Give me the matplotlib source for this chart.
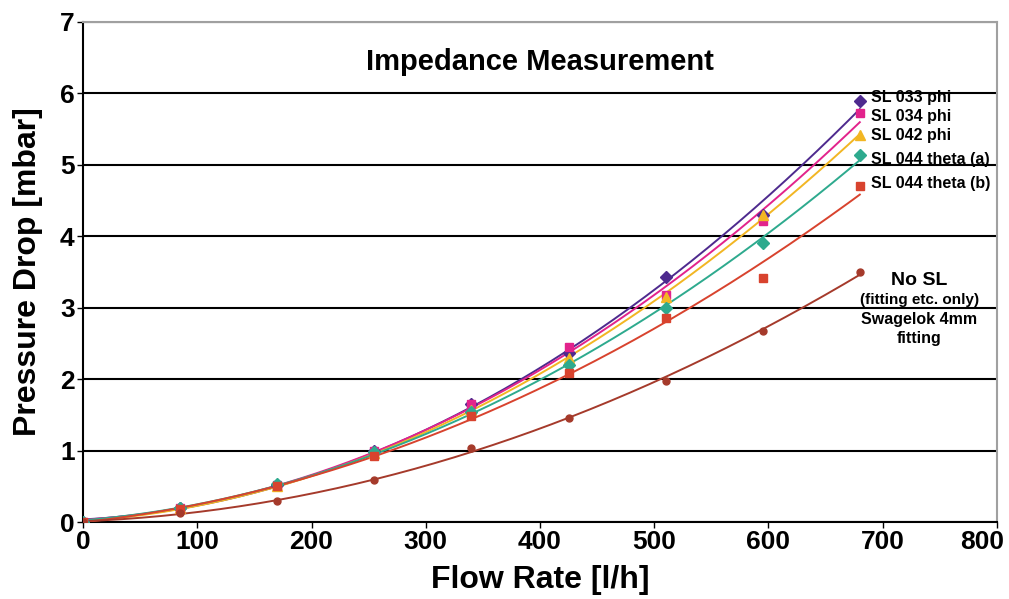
import numpy as np
import matplotlib
matplotlib.use("Agg")
from matplotlib import pyplot as plt
from matplotlib.transforms import ScaledTranslation

plt.rcParams['font.family'] = ['Liberation Sans', 'DejaVu Sans']

flow = [0, 85, 170, 255, 340, 425, 510, 595, 680]

sl033 = [0, 0.20, 0.52, 1.00, 1.65, 2.36, 3.43, 4.30, 5.90]
sl034 = [0, 0.20, 0.52, 1.00, 1.65, 2.45, 3.18, 4.22, 5.73]
sl042 = [0, 0.19, 0.50, 0.97, 1.57, 2.30, 3.15, 4.30, 5.42]
sl044a = [0, 0.20, 0.53, 0.98, 1.54, 2.20, 3.00, 3.90, 5.14]
sl044b = [0, 0.18, 0.50, 0.93, 1.48, 2.08, 2.86, 3.42, 4.70]
no_sl = [0, 0.12, 0.30, 0.59, 1.04, 1.46, 1.98, 2.67, 3.50]

series = [
    ("SL 033 phi", sl033, "#4E2A8E", "D", 6),
    ("SL 034 phi", sl034, "#E2238C", "s", 6),
    ("SL 042 phi", sl042, "#F2B623", "^", 7),
    ("SL 044 theta (a)", sl044a, "#2EAA8E", "D", 6),
    ("SL 044 theta (b)", sl044b, "#D8432E", "s", 6),
    ("No SL", no_sl, "#A53A2B", "o", 5),
]

label_y = [5.94, 5.68, 5.41, 5.08, 4.74]

fig = plt.figure(figsize=(10.09, 5.99), dpi=100)
ax = fig.add_axes([0.0823, 0.1285, 0.9057, 0.8348])

xs = np.linspace(0, 680, 200)
for name, vals, col, mk, ms in series:
    coef = np.polyfit(flow, vals, 2)
    ax.plot(xs, np.polyval(coef, xs), color=col, lw=1.4, zorder=3)
    ax.plot(flow, vals, ls="none", marker=mk, color=col, ms=ms, zorder=4)

for (name, vals, col, mk, ms), ly in zip(series[:5], label_y):
    ax.text(690, ly, name, fontsize=11.5, fontweight="bold", va="center", ha="left")

ax.text(732, 3.38, "No SL", fontsize=14, fontweight="bold", ha="center", va="center")
ax.text(732, 3.11, "(fitting etc. only)", fontsize=11, fontweight="bold", ha="center", va="center")
ax.text(732, 2.83, "Swagelok 4mm", fontsize=11.5, fontweight="bold", ha="center", va="center")
ax.text(732, 2.57, "fitting", fontsize=11.5, fontweight="bold", ha="center", va="center")

ax.text(0.5, 0.92, "Impedance Measurement", transform=ax.transAxes, fontsize=21,
        fontweight="bold", ha="center", va="center")

ax.set_xlim(0, 800)
ax.set_ylim(0, 7)
ax.set_xticks(range(0, 801, 100))
ax.set_yticks(range(0, 8))
ax.yaxis.grid(True, color="black", lw=1.5)
ax.set_axisbelow(True)
for s in ["top", "right"]:
    ax.spines[s].set_color("#A0A0A0")
    ax.spines[s].set_linewidth(1.5)
for s in ["left", "bottom"]:
    ax.spines[s].set_color("black")
    ax.spines[s].set_linewidth(1.5)
ax.tick_params(length=4, width=1, labelsize=19, pad=2)
for t in ax.get_xticklabels() + ax.get_yticklabels():
    t.set_fontweight("bold")

# keep the last x label inside the figure, like the original
last = ax.get_xticklabels()[-1]
last.set_transform(last.get_transform() + ScaledTranslation(-0.15, 0, fig.dpi_scale_trans))

ax.set_xlabel("Flow Rate [l/h]", fontsize=23, fontweight="bold", labelpad=8)
ax.set_ylabel("Pressure Drop [mbar]", fontsize=23, fontweight="bold", labelpad=12)

fig.savefig("out.png", dpi=100)
